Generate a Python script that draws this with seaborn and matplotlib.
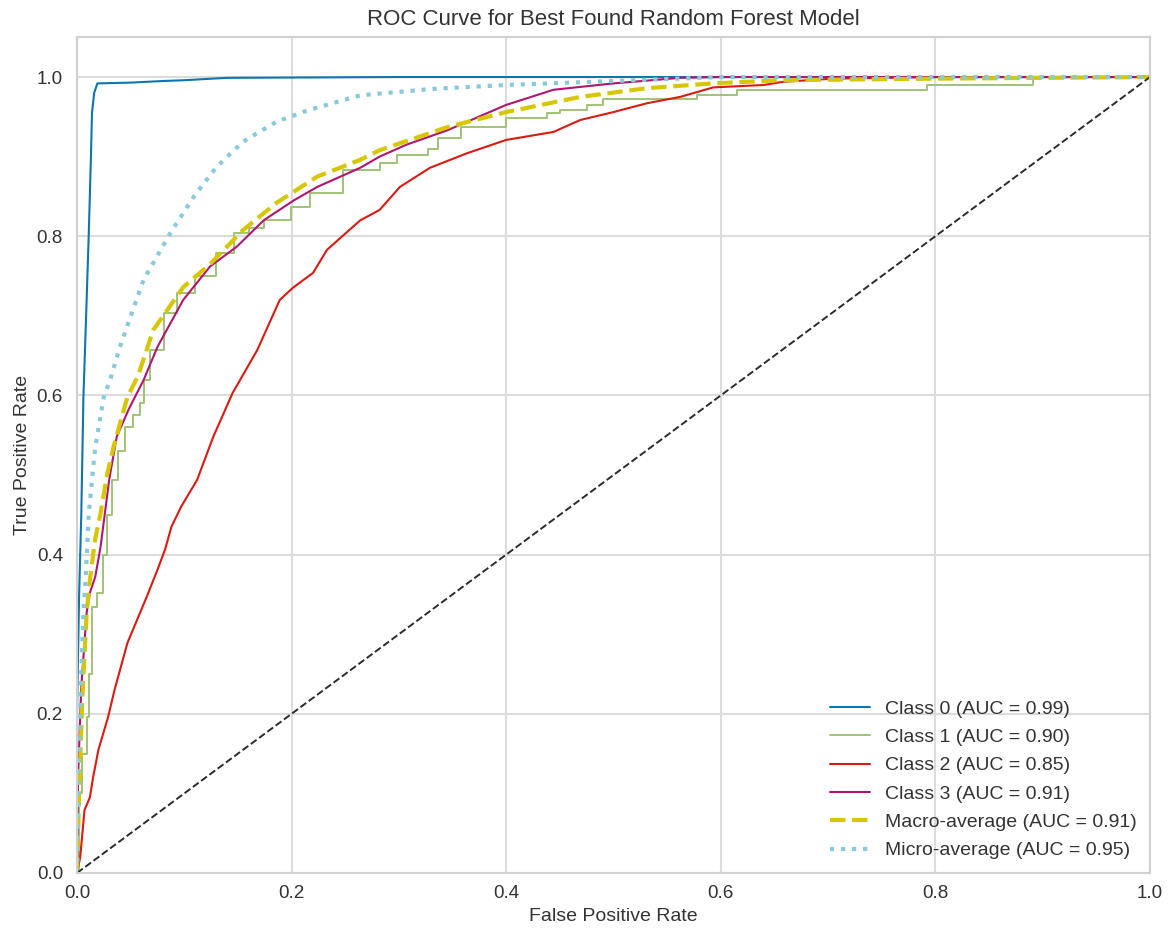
import numpy as np
import pandas as pd
import matplotlib
matplotlib.use("Agg")
import matplotlib.pyplot as plt
import seaborn as sns

# ---- data ----
class0_fpr = [0.0, 0.0, 0.002, 0.004, 0.006, 0.009, 0.011, 0.013, 0.014, 0.016, 0.019, 0.05, 0.08, 0.1, 0.14, 0.3, 1.0]
class0_tpr = [0.0, 0.2, 0.35, 0.45, 0.598, 0.72, 0.804, 0.9, 0.955, 0.98, 0.992, 0.993, 0.995, 0.996, 0.999, 1.0, 1.0]

class1_fpr = [0.0, 0.002, 0.005, 0.009, 0.011, 0.014, 0.019, 0.024, 0.028, 0.033, 0.038, 0.045, 0.052, 0.059,
              0.062, 0.068, 0.081, 0.093, 0.11, 0.130, 0.146, 0.160, 0.174, 0.199, 0.217, 0.248, 0.282, 0.298,
              0.327, 0.336, 0.358, 0.4, 0.438, 0.45, 0.475, 0.49, 0.578, 0.615, 0.792, 0.891, 1.0]
class1_tpr = [0.0, 0.1, 0.15, 0.196, 0.25, 0.334, 0.352, 0.4, 0.45, 0.494, 0.53, 0.56, 0.575, 0.59,
              0.619, 0.657, 0.703, 0.729, 0.75, 0.779, 0.804, 0.81, 0.82, 0.837, 0.854, 0.883, 0.892, 0.902,
              0.91, 0.923, 0.937, 0.948, 0.955, 0.958, 0.965, 0.973, 0.977, 0.984, 0.99, 1.0, 1.0]

class2_fpr = [0.0, 0.003, 0.007, 0.012, 0.015, 0.02, 0.029, 0.035, 0.047, 0.056, 0.065, 0.075, 0.082, 0.088,
              0.097, 0.112, 0.127, 0.145, 0.168, 0.189, 0.201, 0.22, 0.233, 0.264, 0.282, 0.301, 0.329, 0.363,
              0.4, 0.444, 0.469, 0.5, 0.531, 0.562, 0.593, 0.64, 0.658, 0.705, 0.8, 1.0]
class2_tpr = [0.0, 0.02, 0.079, 0.095, 0.12, 0.155, 0.196, 0.23, 0.289, 0.318, 0.347, 0.381, 0.406, 0.435,
              0.46, 0.494, 0.548, 0.603, 0.657, 0.72, 0.735, 0.754, 0.783, 0.82, 0.833, 0.862, 0.886, 0.904,
              0.921, 0.931, 0.946, 0.956, 0.967, 0.975, 0.987, 0.99, 0.994, 0.998, 1.0, 1.0]

class3_fpr = [0.0, 0.001, 0.004, 0.009, 0.012, 0.017, 0.022, 0.030, 0.037, 0.048, 0.054, 0.062, 0.075, 0.099,
              0.124, 0.149, 0.174, 0.202, 0.224, 0.264, 0.282, 0.307, 0.345, 0.4, 0.444, 0.5, 0.562, 0.6, 1.0]
class3_tpr = [0.0, 0.12, 0.234, 0.327, 0.352, 0.372, 0.41, 0.494, 0.548, 0.582, 0.598, 0.619, 0.661, 0.72,
              0.762, 0.787, 0.82, 0.845, 0.862, 0.886, 0.9, 0.915, 0.933, 0.965, 0.984, 0.992, 0.999, 1.0, 1.0]

macro_fpr = [0.0, 0.002, 0.005, 0.009, 0.012, 0.017, 0.022, 0.028, 0.034, 0.047, 0.057, 0.071, 0.099, 0.124,
             0.155, 0.186, 0.224, 0.264, 0.282, 0.345, 0.4, 0.469, 0.531, 0.593, 0.655, 0.8, 0.9, 1.0]
macro_tpr = [0.0, 0.1, 0.22, 0.327, 0.368, 0.42, 0.452, 0.5, 0.535, 0.598, 0.625, 0.682, 0.736, 0.765,
             0.808, 0.842, 0.875, 0.896, 0.908, 0.937, 0.956, 0.975, 0.986, 0.992, 0.996, 0.998, 0.999, 1.0]

micro_fpr = [0.0, 0.002, 0.004, 0.006, 0.008, 0.011, 0.017, 0.025, 0.031, 0.040, 0.062, 0.087, 0.109, 0.130,
             0.155, 0.186, 0.217, 0.264, 0.33, 0.4, 0.5, 0.6, 1.0]
micro_tpr = [0.0, 0.15, 0.25, 0.327, 0.368, 0.452, 0.535, 0.598, 0.62, 0.661, 0.745, 0.804, 0.850, 0.887,
             0.919, 0.944, 0.959, 0.977, 0.985, 0.99, 0.995, 1.0, 1.0]

labels = ["Class 0 (AUC = 0.99)", "Class 1 (AUC = 0.90)", "Class 2 (AUC = 0.85)",
          "Class 3 (AUC = 0.91)", "Macro-average (AUC = 0.91)", "Micro-average (AUC = 0.95)"]
colors = ["#0d76ad", "#9fc377", "#db1a12", "#b0156f", "#d7c703", "#88cada"]

# ---- style ----
sns.set_style("whitegrid", {"grid.color": "#dcdcdc", "axes.edgecolor": "#d0d0d0"})
plt.rcParams["font.family"] = ["Liberation Sans", "DejaVu Sans"]
plt.rcParams["xtick.color"] = "#333333"
plt.rcParams["ytick.color"] = "#333333"
plt.rcParams["text.color"] = "#333333"
plt.rcParams["axes.labelcolor"] = "#333333"

fig = plt.figure(figsize=(11.7, 9.31), dpi=100)
ax = fig.add_axes([0.0658, 0.0623, 0.9171, 0.8977])

series = [
    (class0_fpr, class0_tpr, dict(lw=1.5, linestyle="-")),
    (class1_fpr, class1_tpr, dict(lw=1.4, linestyle="-", drawstyle="steps-post")),
    (class2_fpr, class2_tpr, dict(lw=1.5, linestyle="-")),
    (class3_fpr, class3_tpr, dict(lw=1.5, linestyle="-")),
    (macro_fpr, macro_tpr, dict(lw=3, linestyle="--", dashes=(3.5, 2.2))),
    (micro_fpr, micro_tpr, dict(lw=3, linestyle=":")),
]
for (fx, ty, kw), lab, col in zip(series, labels, colors):
    df = pd.DataFrame({"fpr": fx, "tpr": ty})
    sns.lineplot(data=df, x="fpr", y="tpr", ax=ax, color=col, label=lab,
                 estimator=None, sort=False, **kw)

diag = pd.DataFrame({"fpr": [0.0, 1.0], "tpr": [0.0, 1.0]})
sns.lineplot(data=diag, x="fpr", y="tpr", ax=ax, color="#2b2b2b", linestyle="--",
             lw=1.4, estimator=None, sort=False)

ax.set_xlim(0, 1)
ax.set_ylim(0, 1.05)
ax.set_xticks([0, 0.2, 0.4, 0.6, 0.8, 1.0])
ax.set_yticks([0, 0.2, 0.4, 0.6, 0.8, 1.0])
ax.set_xticklabels(["0.0", "0.2", "0.4", "0.6", "0.8", "1.0"])
ax.set_yticklabels(["0.0", "0.2", "0.4", "0.6", "0.8", "1.0"])
ax.tick_params(axis="y", labelsize=13.6, length=0, pad=10)
ax.tick_params(axis="x", labelsize=13.6, length=0, pad=9)
ax.grid(True, color="#dcdcdc", lw=1.5)
for s in ax.spines.values():
    s.set_color("#d0d0d0")
    s.set_linewidth(1.5)

ax.set_title("ROC Curve for Best Found Random Forest Model", fontsize=16, pad=9)
ax.set_xlabel("False Positive Rate", fontsize=14, labelpad=4)
ax.set_ylabel("True Positive Rate", fontsize=14, labelpad=4)

leg = ax.legend(loc="lower right", frameon=False, fontsize=14, handlelength=2.06,
                handletextpad=0.75, labelspacing=0.55, borderaxespad=0.3)

fig.savefig("out.png", dpi=100)
